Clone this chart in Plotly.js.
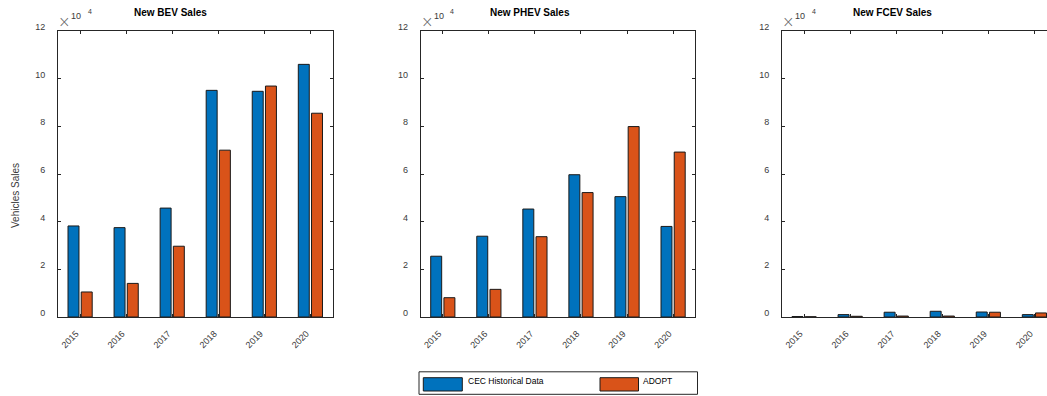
<!DOCTYPE html>
<html>
<head>
<meta charset="utf-8">
<script src="https://cdn.plot.ly/plotly-3.0.1.min.js"></script>
<style>
  html, body { margin: 0; padding: 0; overflow: hidden; background: #fff; }
  #chart { width: 1070px; height: 396px; }
</style>
</head>
<body>
<div id="chart"></div>
<script>
// Model years shown on every panel
const years = ['2015', '2016', '2017', '2018', '2019', '2020'];

// New battery-electric vehicle sales
const bevHistorical = [38200, 37500, 45700, 95100, 94700, 106000];
const bevAdopt      = [10500, 14100, 29700, 70000, 96900, 85500];

// New plug-in hybrid sales
const phevHistorical = [25500, 33900, 45300, 59700, 50500, 38000];
const phevAdopt      = [8100, 11600, 33700, 52200, 79900, 69200];

// New fuel-cell vehicle sales
const fcevHistorical = [200, 1000, 2000, 2400, 2100, 1000];
const fcevAdopt      = [100, 300, 400, 400, 2000, 1700];

// Y ticks, shown in units of 10^4
const yTickVals = [0, 20000, 40000, 60000, 80000, 100000, 120000];
const yTickText = ['0', '2', '4', '6', '8', '10', '12'];

const panelTitles = ['New BEV Sales', 'New PHEV Sales', 'New FCEV Sales'];
const seriesNames = ['CEC Historical Data', 'ADOPT'];

const W = 1070, H = 396;
const px = v => v / W;          // pixel -> paper x
const py = v => 1 - v / H;      // pixel -> paper y

const BLUE = '#0072BD', ORANGE = '#D95319', INK = '#262626';
const FONT = 'Liberation Sans, Arial, sans-serif';

// Left edge and width of each axes box (px)
const panelLeft = [58, 420.7, 782];
const panelWidth = 274.5;
const plotTop = 31, plotBottom = 317;

const data = [
  [bevHistorical, bevAdopt],
  [phevHistorical, phevAdopt],
  [fcevHistorical, fcevAdopt]
];

const traces = [];
data.forEach((pair, i) => {
  const sfx = i === 0 ? '' : String(i + 1);
  pair.forEach((vals, j) => {
    traces.push({
      type: 'bar',
      x: years,
      y: vals,
      name: seriesNames[j],
      xaxis: 'x' + sfx,
      yaxis: 'y' + sfx,
      marker: { color: j === 0 ? BLUE : ORANGE, line: { color: '#1a1a1a', width: 1 } },
      showlegend: false,
      hoverinfo: 'x+y+name'
    });
  });
});

const layout = {
  width: W, height: H,
  margin: { l: 0, r: 0, t: 0, b: 0 },
  paper_bgcolor: '#fff', plot_bgcolor: '#fff',
  barmode: 'group', bargap: 0.426, bargroupgap: 0.17,
  font: { family: FONT, color: INK },
  showlegend: false,
  annotations: [],
  shapes: []
};

panelLeft.forEach((left, i) => {
  const sfx = i === 0 ? '' : String(i + 1);
  layout['xaxis' + sfx] = {
    domain: [px(left), px(left + panelWidth)],
    anchor: 'y' + sfx,
    type: 'category',
    range: [-0.48, 5.48],
    showline: true, linecolor: INK, linewidth: 1, mirror: 'ticks',
    ticks: 'inside', ticklen: 3, tickcolor: INK,
    tickangle: -45,
    tickfont: { family: FONT, size: 9, color: '#3a3a3a' },
    ticklabelstandoff: 7,
    ticklabelshift: -4,
    showgrid: false, zeroline: false, fixedrange: true
  };
  layout['yaxis' + sfx] = {
    domain: [py(plotBottom), py(plotTop)],
    anchor: 'x' + sfx,
    range: [0, 120000],
    tickvals: yTickVals, ticktext: yTickText,
    showline: true, linecolor: INK, linewidth: 1, mirror: 'ticks',
    ticks: 'inside', ticklen: 3, tickcolor: INK,
    tickfont: { family: FONT, size: 9, color: '#3a3a3a' },
    ticklabelstandoff: 10,
    ticklabelshift: -4,
    showgrid: false, zeroline: false, fixedrange: true
  };

  // Panel title
  const titleCx = [170, 530, 892][i];
  layout.annotations.push({
    xref: 'paper', yref: 'paper', x: px(titleCx), y: py(12.5),
    xanchor: 'center', yanchor: 'middle', showarrow: false,
    text: '<b>' + panelTitles[i] + '</b>',
    font: { family: FONT, size: 10, color: '#000' }
  });

  // Exponent marker: ×10^4
  layout.annotations.push({
    xref: 'paper', yref: 'paper', x: px(left + 6.3), y: py(22.5),
    xanchor: 'center', yanchor: 'middle', showarrow: false,
    text: '×', font: { family: 'DejaVu Sans, sans-serif', size: 15, weight: 200, color: '#666' }
  });
  layout.annotations.push({
    xref: 'paper', yref: 'paper', x: px(left + 18), y: py(16.5),
    xanchor: 'center', yanchor: 'middle', showarrow: false,
    text: '10', font: { family: FONT, size: 9, color: '#3a3a3a' }
  });
  layout.annotations.push({
    xref: 'paper', yref: 'paper', x: px(left + 31.5), y: py(11),
    xanchor: 'center', yanchor: 'middle', showarrow: false,
    text: '4', font: { family: FONT, size: 7, color: '#3a3a3a' }
  });
});

// Shared y-axis label
layout.annotations.push({
  xref: 'paper', yref: 'paper', x: px(15), y: py(196),
  xanchor: 'center', yanchor: 'middle', showarrow: false, textangle: -90,
  text: 'Vehicles Sales', font: { family: FONT, size: 10, color: '#3a3a3a' }
});

// Legend box under the middle panel
layout.shapes.push({
  type: 'rect', xref: 'paper', yref: 'paper',
  x0: px(419), x1: px(697.5), y0: py(394.3), y1: py(371.8),
  line: { color: INK, width: 1 }, fillcolor: '#fff'
});
[[423.3, 462.3, BLUE, 465.7], [600, 638.5, ORANGE, 641]].forEach((s, j) => {
  layout.shapes.push({
    type: 'rect', xref: 'paper', yref: 'paper',
    x0: px(s[0]), x1: px(s[1]), y0: py(391), y1: py(377.7),
    line: { color: '#1a1a1a', width: 1 }, fillcolor: s[2]
  });
  layout.annotations.push({
    xref: 'paper', yref: 'paper', x: px(s[3]), y: py(381),
    xanchor: 'left', yanchor: 'middle', showarrow: false,
    text: seriesNames[j], font: { family: FONT, size: 8.5, color: '#000' }
  });
});

Plotly.newPlot('chart', traces, layout, { staticPlot: true, displayModeBar: false });
</script>
</body>
</html>
